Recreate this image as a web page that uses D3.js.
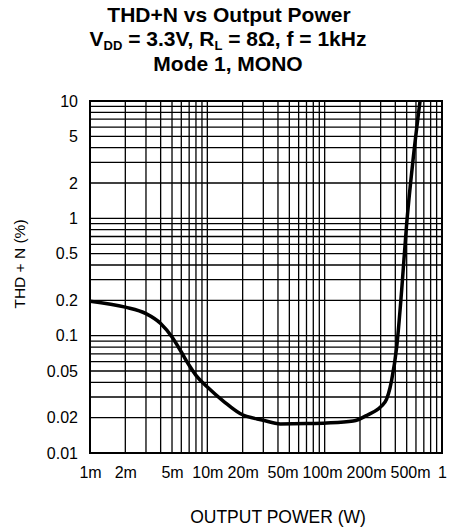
<!DOCTYPE html>
<html>
<head>
<meta charset="utf-8">
<script src="https://cdn.jsdelivr.net/npm/d3@7"></script>
<style>
  body { margin: 0; background: #fff; }
  text { font-family: "Liberation Sans", Arial, Helvetica, sans-serif; }
</style>
</head>
<body>
<div id="chart"></div>
<script>
// curve
var power = [0.001, 0.002, 0.003, 0.004, 0.005, 0.006, 0.007, 0.008, 0.010, 0.014,
             0.019, 0.030, 0.042, 0.070, 0.104, 0.175, 0.228, 0.327, 0.372, 0.411,
             0.453, 0.500, 0.570, 0.650];
var thd = [0.197, 0.175, 0.154, 0.127, 0.0975, 0.0726, 0.0559, 0.0459, 0.0365, 0.0272,
           0.0217, 0.0190, 0.0177, 0.0178, 0.018, 0.0187, 0.0209, 0.0272, 0.0416, 0.080,
           0.243, 0.90, 3.33, 10];

var xTicks = [0.001, 0.002, 0.005, 0.01, 0.02, 0.05, 0.1, 0.2, 0.5, 1];
var xTickLabels = ["1m", "2m", "5m", "10m", "20m", "50m", "100m", "200m", "500m", "1"];
var yTicks = [10, 5, 2, 1, 0.5, 0.2, 0.1, 0.05, 0.02, 0.01];
var yTickLabels = ["10", "5", "2", "1", "0.5", "0.2", "0.1", "0.05", "0.02", "0.01"];

var svgWidth = 451;
var svgHeight = 531;

var margin = {
  top: 101,
  right: 9,
  bottom: 78,
  left: 90
};

var plotWidth = svgWidth - margin.left - margin.right;
var plotHeight = svgHeight - margin.top - margin.bottom;

var svg = d3.select("#chart")
  .append("svg")
  .attr("width", svgWidth)
  .attr("height", svgHeight);

var plot = svg.append("g")
  .attr("transform", `translate(${margin.left}, ${margin.top})`);

var xScale = d3.scaleLog()
  .domain([0.001, 1])
  .range([0, plotWidth]);

var yScale = d3.scaleLog()
  .domain([0.01, 10])
  .range([plotHeight, 0]);

// grid, every 1..9 of each decade
plot.append("g")
  .selectAll("line")
  .data(xScale.ticks())
  .enter()
  .append("line")
  .attr("x1", d => xScale(d))
  .attr("x2", d => xScale(d))
  .attr("y1", 0)
  .attr("y2", plotHeight)
  .attr("stroke", "#000")
  .attr("stroke-width", 1.3);

plot.append("g")
  .selectAll("line")
  .data(yScale.ticks())
  .enter()
  .append("line")
  .attr("y1", d => yScale(d))
  .attr("y2", d => yScale(d))
  .attr("x1", 0)
  .attr("x2", plotWidth)
  .attr("stroke", "#000")
  .attr("stroke-width", 1.3);

plot.append("rect")
  .attr("width", plotWidth)
  .attr("height", plotHeight)
  .attr("fill", "none")
  .attr("stroke", "#000")
  .attr("stroke-width", 2);

plot.append("clipPath")
  .attr("id", "clip")
  .append("rect")
  .attr("width", plotWidth)
  .attr("height", plotHeight);

var line = d3.line()
  .x(d => xScale(d[0]))
  .y(d => yScale(d[1]))
  .curve(d3.curveMonotoneX);

plot.append("path")
  .datum(power.map((p, i) => [p, thd[i]]))
  .attr("clip-path", "url(#clip)")
  .attr("d", line)
  .attr("fill", "none")
  .attr("stroke", "#000")
  .attr("stroke-width", 3.5)
  .attr("stroke-linejoin", "round");

// axes
var xAxis = d3.axisBottom(xScale)
  .tickValues(xTicks)
  .tickFormat((d, i) => xTickLabels[i])
  .tickSize(0)
  .tickPadding(14);

var yAxis = d3.axisLeft(yScale)
  .tickValues(yTicks)
  .tickFormat((d, i) => yTickLabels[i])
  .tickSize(0)
  .tickPadding(12);

var gx = plot.append("g")
  .attr("transform", `translate(0, ${plotHeight})`)
  .call(xAxis);
var gy = plot.append("g").call(yAxis);

[gx, gy].forEach(function(g) {
  g.select(".domain").remove();
  g.selectAll("text")
    .attr("fill", "#000")
    .style("font-family", "'Liberation Sans', Arial, sans-serif")
    .style("font-size", "16px");
});

// push crowded x labels apart a little
var labels = gx.selectAll(".tick text").nodes();
var shift = labels.map(() => 0);
for (var pass = 0; pass < 6; pass++) {
  for (var i = 0; i < labels.length - 1; i++) {
    var a = labels[i].getBBox(), b = labels[i + 1].getBBox();
    var xa = xScale(xTicks[i]) + shift[i], xb = xScale(xTicks[i + 1]) + shift[i + 1];
    var gap = (xb - b.width / 2) - (xa + a.width / 2);
    if (gap < 4) {
      var need = (4 - gap) / 2;
      if (i > 0) shift[i] -= need; else shift[i + 1] += need;
      if (i + 1 < labels.length - 1) shift[i + 1] += need; else shift[i] -= need;
    }
  }
}
labels.forEach((n, i) => d3.select(n).attr("x", shift[i]));

// axis titles
svg.append("text")
  .attr("x", 278)
  .attr("y", 523)
  .attr("text-anchor", "middle")
  .attr("font-size", "17.5px")
  .attr("fill", "#000")
  .text("OUTPUT POWER (W)");

svg.append("text")
  .attr("transform", "translate(25, 264) rotate(-90)")
  .attr("text-anchor", "middle")
  .attr("font-size", "15.5px")
  .attr("fill", "#000")
  .text("THD + N (%)");

// title
var title = svg.append("g")
  .attr("font-weight", "bold")
  .attr("font-size", "21px")
  .attr("fill", "#000")
  .attr("text-anchor", "middle");

title.append("text")
  .attr("x", 229)
  .attr("y", 22)
  .text("THD+N vs Output Power");

var t2 = title.append("text")
  .attr("x", 228)
  .attr("y", 46);
t2.append("tspan").text("V");
t2.append("tspan").attr("font-size", "13px").attr("dy", 4).text("DD");
t2.append("tspan").attr("dy", -4).text(" = 3.3V, R");
t2.append("tspan").attr("font-size", "13px").attr("dy", 4).text("L");
t2.append("tspan").attr("dy", -4).text(" = 8\u03A9, f = 1kHz");

title.append("text")
  .attr("x", 228)
  .attr("y", 71)
  .text("Mode 1, MONO");
</script>
</body>
</html>
